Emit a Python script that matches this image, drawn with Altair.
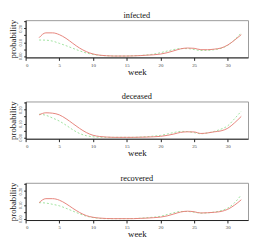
import altair as alt
import pandas as pd

weeks = list(range(2, 33))

infected_red = [0.133, 0.168, 0.168, 0.155, 0.128, 0.092, 0.058, 0.032, 0.015, 0.006, 0.002,
                0.000, 0.000, 0.000, 0.001, 0.003, 0.006, 0.009, 0.014, 0.024, 0.038, 0.052,
                0.058, 0.056, 0.046, 0.046, 0.050, 0.058, 0.080, 0.115, 0.155]
infected_green = [0.116, 0.115, 0.108, 0.092, 0.075, 0.056, 0.038, 0.022, 0.012, 0.005, 0.002,
                  0.000, 0.000, 0.000, 0.002, 0.004, 0.008, 0.014, 0.024, 0.036, 0.047, 0.054,
                  0.054, 0.047, 0.040, 0.041, 0.046, 0.056, 0.078, 0.118, 0.168]

deceased_red = [0.163, 0.178, 0.175, 0.163, 0.135, 0.100, 0.065, 0.035, 0.015, 0.006, 0.002,
                0.000, 0.000, 0.000, 0.000, 0.001, 0.002, 0.004, 0.007, 0.014, 0.024, 0.036,
                0.040, 0.039, 0.028, 0.032, 0.040, 0.047, 0.066, 0.105, 0.152]
deceased_green = [0.168, 0.160, 0.140, 0.118, 0.088, 0.055, 0.028, 0.012, 0.004, 0.001, 0.000,
                  0.000, 0.000, 0.000, 0.000, 0.002, 0.005, 0.009, 0.014, 0.024, 0.035, 0.043,
                  0.042, 0.034, 0.026, 0.032, 0.043, 0.060, 0.084, 0.135, 0.190]

recovered_red = [0.116, 0.145, 0.145, 0.134, 0.108, 0.075, 0.045, 0.022, 0.010, 0.004, 0.001,
                 0.000, 0.000, 0.000, 0.000, 0.002, 0.004, 0.007, 0.011, 0.020, 0.034, 0.048,
                 0.054, 0.050, 0.041, 0.043, 0.046, 0.052, 0.068, 0.098, 0.137]
recovered_green = [0.116, 0.113, 0.104, 0.093, 0.075, 0.055, 0.035, 0.018, 0.008, 0.002, 0.000,
                   0.000, 0.000, 0.000, 0.001, 0.003, 0.007, 0.011, 0.017, 0.030, 0.043, 0.052,
                   0.052, 0.047, 0.040, 0.042, 0.048, 0.058, 0.077, 0.115, 0.173]

titles = ["infected", "deceased", "recovered"]
x_ticks = [0, 5, 10, 15, 20, 25, 30]
y_ticks = [0.0, 0.05, 0.10, 0.15, 0.20, 0.25]

RED = "#e5837b"
GREEN = "#9fe29f"
FONT = "Liberation Serif"


def panel(title, red, green):
    df = pd.DataFrame({
        "week": weeks + weeks,
        "p": red + green,
        "series": ["red"] * len(weeks) + ["green"] * len(weeks),
    })
    x = alt.X("week:Q",
              scale=alt.Scale(domain=[0, 33], nice=False, zero=False),
              axis=alt.Axis(values=x_ticks, title="week", grid=False,
                            labelFontSize=5, labelFont=FONT, labelColor="#444",
                            labelPadding=2, tickSize=3, tickColor="#222",
                            domainColor="#222", titleFont=FONT, titleFontSize=9,
                            titleFontWeight="normal", titlePadding=0, titleColor="#111"))
    y = alt.Y("p:Q",
              scale=alt.Scale(domain=[-0.01, 0.26], nice=False, zero=False),
              axis=alt.Axis(values=y_ticks, title="probability", grid=False,
                            labelExpr="round(datum.value*20) % 2 == 0 ? format(datum.value, '.2f') : ''",
                            labelAngle=270, labelFontSize=4.5, labelFont=FONT,
                            labelColor="#444", labelPadding=1, tickSize=2,
                            tickColor="#222", domainColor="#222", titleFont=FONT,
                            titleFontSize=9, titleFontWeight="normal", titlePadding=0,
                            titleColor="#111"))
    base = alt.Chart(df).encode(x=x, y=y)
    red_line = base.transform_filter("datum.series == 'red'").mark_line(
        color=RED, strokeWidth=1.0, interpolate="monotone")
    green_line = base.transform_filter("datum.series == 'green'").mark_line(
        color=GREEN, strokeWidth=1.0, strokeDash=[2, 2], interpolate="monotone")
    return alt.layer(green_line, red_line).properties(
        width=227, height=38,
        title=alt.TitleParams(title, font=FONT, fontSize=8.5, fontWeight="normal",
                              color="#111", offset=0, anchor="middle"))


chart = alt.vconcat(
    panel(titles[0], infected_red, infected_green),
    panel(titles[1], deceased_red, deceased_green),
    panel(titles[2], recovered_red, recovered_green),
    spacing=15,
).properties(padding=0).configure_view(stroke="#9a9a9a", strokeWidth=1)

chart.save("out.html", embed_options={"renderer": "svg", "actions": False})
